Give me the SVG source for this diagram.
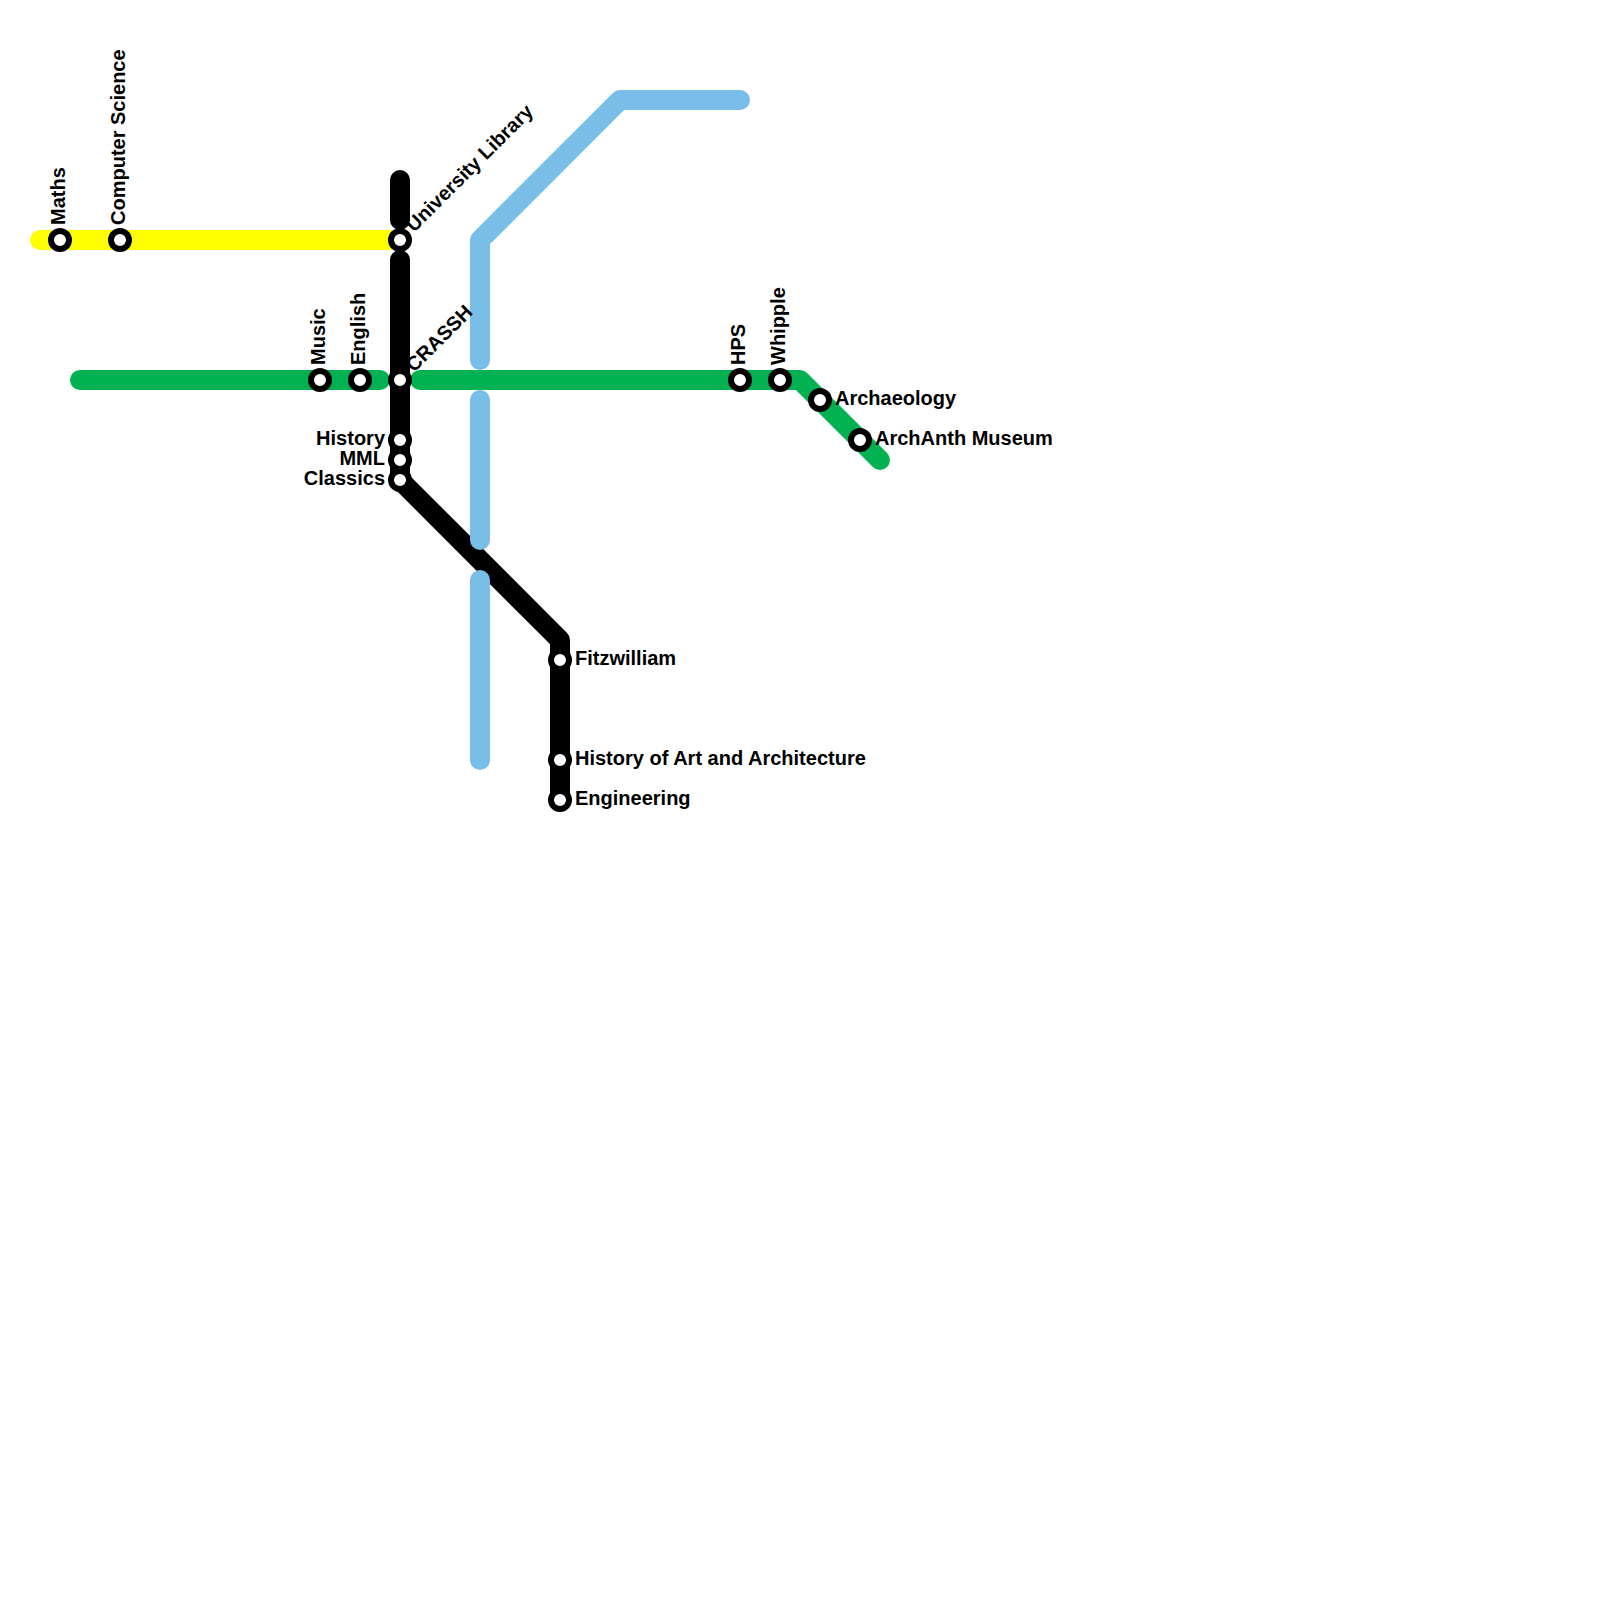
<svg xmlns="http://www.w3.org/2000/svg" width="1600" height="1600" viewBox="0 0 1600 1600">
<style>
.l{fill:none;stroke-width:20;stroke-linecap:round;stroke-linejoin:round}
.s{fill:#fff;stroke:#000;stroke-width:6}
text{font-family:"Liberation Sans",Arial,sans-serif;font-weight:700;font-size:20px;fill:#000}
.e{text-anchor:end}
</style>
<rect width="1600" height="1600" fill="#fff"/>
<g id="connectors">
<path class="l" stroke="#000" d="M400 180V220M400 260V480L560 640V800"/>
<path class="l" stroke="#ffff00" d="M40 240H390"/>
<path class="l" stroke="#79bde9" d="M480 360V240L620 100H740M480 400V540M480 580V760"/>
<path class="l" stroke="#00b251" d="M80 380H380M420 380H800L880 460"/>
</g>
<g id="maths"><circle class="s" cx="60" cy="240" r="9"/><text transform="translate(65 225) rotate(-90)">Maths</text></g>
<g id="computer-science"><circle class="s" cx="120" cy="240" r="9"/><text transform="translate(125 225) rotate(-90)">Computer Science</text></g>
<g id="university-library"><circle class="s" cx="400" cy="240" r="9"/><text transform="translate(414 233) rotate(-45)">University Library</text></g>
<g id="music"><circle class="s" cx="320" cy="380" r="9"/><text transform="translate(325 365) rotate(-90)">Music</text></g>
<g id="english"><circle class="s" cx="360" cy="380" r="9"/><text transform="translate(365 365) rotate(-90)">English</text></g>
<g id="crassh"><circle class="s" cx="400" cy="380" r="9"/><text transform="translate(414 373) rotate(-45)">CRASSH</text></g>
<g id="history"><circle class="s" cx="400" cy="440" r="9"/><text class="e" x="385" y="445">History</text></g>
<g id="mml"><circle class="s" cx="400" cy="460" r="9"/><text class="e" x="385" y="465">MML</text></g>
<g id="classics"><circle class="s" cx="400" cy="480" r="9"/><text class="e" x="385" y="485">Classics</text></g>
<g id="hps"><circle class="s" cx="740" cy="380" r="9"/><text transform="translate(745 365) rotate(-90)">HPS</text></g>
<g id="whipple"><circle class="s" cx="780" cy="380" r="9"/><text transform="translate(785 365) rotate(-90)">Whipple</text></g>
<g id="archaeology"><circle class="s" cx="820" cy="400" r="9"/><text x="835" y="405">Archaeology</text></g>
<g id="archanth-museum"><circle class="s" cx="860" cy="440" r="9"/><text x="875" y="445">ArchAnth Museum</text></g>
<g id="fitzwilliam"><circle class="s" cx="560" cy="660" r="9"/><text x="575" y="665">Fitzwilliam</text></g>
<g id="history-of-art"><circle class="s" cx="560" cy="760" r="9"/><text x="575" y="765">History of Art and Architecture</text></g>
<g id="engineering"><circle class="s" cx="560" cy="800" r="9"/><text x="575" y="805">Engineering</text></g>
</svg>
